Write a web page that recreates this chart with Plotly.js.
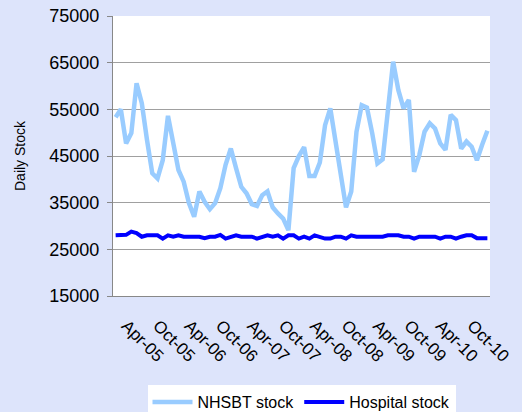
<!DOCTYPE html>
<html>
<head>
<meta charset="utf-8">
<script src="https://cdn.plot.ly/plotly-3.0.1.min.js"></script>
<style>html,body{margin:0;padding:0;background:#DDE4FB;}#chart{width:522px;height:412px;}</style>
</head>
<body>
<div id="chart"></div>
<script>
const months = [
  "Apr-05","May-05","Jun-05","Jul-05","Aug-05","Sep-05","Oct-05","Nov-05","Dec-05","Jan-06","Feb-06","Mar-06",
  "Apr-06","May-06","Jun-06","Jul-06","Aug-06","Sep-06","Oct-06","Nov-06","Dec-06","Jan-07","Feb-07","Mar-07",
  "Apr-07","May-07","Jun-07","Jul-07","Aug-07","Sep-07","Oct-07","Nov-07","Dec-07","Jan-08","Feb-08","Mar-08",
  "Apr-08","May-08","Jun-08","Jul-08","Aug-08","Sep-08","Oct-08","Nov-08","Dec-08","Jan-09","Feb-09","Mar-09",
  "Apr-09","May-09","Jun-09","Jul-09","Aug-09","Sep-09","Oct-09","Nov-09","Dec-09","Jan-10","Feb-10","Mar-10",
  "Apr-10","May-10","Jun-10","Jul-10","Aug-10","Sep-10","Oct-10","Nov-10","Dec-10","Jan-11","Feb-11","Mar-11"
];
const nhsbtStock = [
  53300,55000,47700,49900,60600,56300,48400,41300,40200,44100,53600,47700,
  42000,39500,34900,32000,37400,35200,33600,34900,38100,43100,46600,42400,
  38400,37000,34700,34300,36600,37400,34000,32700,31600,29100,42400,45000,
  46900,40700,40700,43600,51600,55200,47700,41300,34000,37400,50200,55900,
  55400,49900,43400,44300,54900,65200,59100,55200,57000,41600,45200,50200,
  52000,50900,47700,46300,53800,52700,46600,48100,47000,44100,47400,50400
];
const hospitalStock = [
  28000,28000,28100,28800,28500,27700,28000,28000,28000,27300,28000,27700,
  28000,27700,27700,27700,27700,27400,27700,27700,28100,27300,27700,28000,
  27700,27700,27700,27300,27700,28000,27700,28000,27300,28000,28000,27300,
  27700,27300,28000,27700,27300,27300,27700,27700,27300,28000,27700,27700,
  27700,27700,27700,27700,28000,28000,28000,27700,27700,27300,27700,27700,
  27700,27700,27300,27700,27700,27300,27700,28000,28000,27400,27400,27400
];
const labelEvery = 6;
const yTicks = [15000,25000,35000,45000,55000,65000,75000];
const yTickText = ["15000","25000","35000","45000","55000","65000","75000"];

const idx = months.map((m, i) => i);
const labelPos = idx.filter(i => i % labelEvery === 0);
const labelText = labelPos.map(i => months[i]);
const boundaryPos = [];
for (let b = 0; b <= months.length; b += labelEvery) boundaryPos.push(b - 0.5);
const xr = [-0.5, months.length - 0.5];

const traces = [
  {x: idx, y: nhsbtStock, name: "NHSBT stock", type: "scatter", mode: "lines",
   line: {color: "#99CCFF", width: 4.5}},
  {x: idx, y: hospitalStock, name: "Hospital stock", type: "scatter", mode: "lines",
   line: {color: "#0000FF", width: 4}}
];

const layout = {
  width: 522, height: 412,
  paper_bgcolor: "#DDE4FB",
  plot_bgcolor: "#FFFFFF",
  margin: {l: 113, r: 32, t: 16, b: 116, autoexpand: false},
  font: {family: "Liberation Sans, Arial, sans-serif", color: "#000000"},
  showlegend: true,
  legend: {orientation: "h", x: 0.5, xanchor: "center", y: -0.318, yanchor: "top",
           bgcolor: "#FFFFFF", font: {size: 16}, traceorder: "normal",
           tracegroupgap: 0, itemwidth: 40},
  xaxis: {
    range: xr, tickvals: labelPos, ticktext: labelText, tickangle: 45,
    ticks: "", showgrid: false, zeroline: false, showline: true, linecolor: "#888888", linewidth: 1,
    tickfont: {size: 17}, ticklabelstandoff: 12, ticklabelshift: 11, automargin: false
  },
  xaxis2: {
    overlaying: "x", anchor: "y", side: "bottom", range: xr, tickvals: boundaryPos,
    ticks: "outside", ticklen: 5, tickcolor: "#888888", showticklabels: false,
    showgrid: false, zeroline: false, showline: false, automargin: false
  },
  yaxis: {
    range: [15000, 75000], tickvals: yTicks, ticktext: yTickText, ticks: "outside", ticklen: 5, tickcolor: "#888888",
    showgrid: true, gridcolor: "#A0A0A0", gridwidth: 1, zeroline: false,
    showline: true, linecolor: "#888888", linewidth: 1,
    tickfont: {size: 18}, ticklabelstandoff: 4, automargin: false,
    title: {text: "Daily Stock", font: {size: 14}, standoff: 20}
  }
};

Plotly.newPlot("chart", traces, layout, {displayModeBar: false, staticPlot: true});
</script>
</body>
</html>
